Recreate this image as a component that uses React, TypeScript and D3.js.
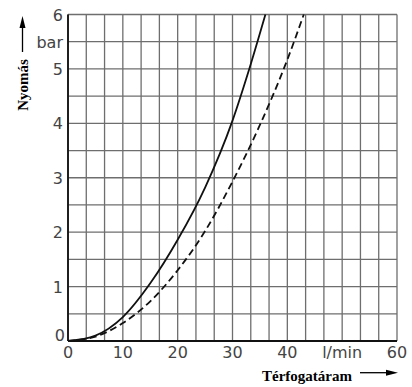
import React from "react";
import * as d3 from "d3";

const solidQ = [0, 5, 10, 15, 20, 25, 30, 33, 36];
const solidP = [0, 0.1, 0.44, 1.06, 1.86, 2.82, 4.05, 4.98, 6];
const dashQ = [0, 5, 10, 15, 20, 25, 30, 35, 40, 43];
const dashP = [0, 0.08, 0.33, 0.73, 1.3, 2.02, 2.93, 3.97, 5.17, 6];
const xTickVals = [0, 10, 20, 30, 40, 50, 60];
const xTickLabels = ["0", "10", "20", "30", "40", "l/min", "60"];
const yTickVals = [0, 1, 2, 3, 4, 5, 5.5, 6];
const yTickLabels = ["0", "1", "2", "3", "4", "5", "bar", "6"];

export default function App() {
  const W = 412, H = 387;
  const L = 68, R = 397, T = 14.5, B = 341;
  const x = d3.scaleLinear().domain([0, 60]).range([L, R]);
  const y = d3.scaleLinear().domain([0, 6]).range([B, T]);
  const vGrid = d3.range(0, 19).map((i) => (i * 60) / 18);
  const hGrid = d3.range(0, 13).map((i) => i * 0.5);
  const line = d3.line<[number, number]>().x((d) => x(d[0])).y((d) => y(d[1])).curve(d3.curveMonotoneX);
  const solid = line(solidQ.map((q, i) => [q, solidP[i]] as [number, number]))!;
  const dashed = line(dashQ.map((q, i) => [q, dashP[i]] as [number, number]))!;
  const tickFont = "'DejaVu Sans', sans-serif";
  return (
    <svg width={W} height={H} style={{ position: "absolute", left: 0, top: 0 }}>
      <rect width={W} height={H} fill="#fff" />
      {vGrid.map((v, i) => (
        <line key={"v" + i} x1={x(v)} x2={x(v)} y1={T} y2={B} stroke="#6e6e6e" strokeWidth={1.3} />
      ))}
      {hGrid.map((v, i) => (
        <line key={"h" + i} x1={L} x2={R} y1={y(v)} y2={y(v)} stroke="#6e6e6e" strokeWidth={1.3} />
      ))}
      <line x1={L} x2={L} y1={T} y2={B} stroke="#111" strokeWidth={1.8} />
      <line x1={L} x2={R} y1={B} y2={B} stroke="#111" strokeWidth={1.8} />
      <path d={solid} fill="none" stroke="#111" strokeWidth={1.8} />
      <path d={dashed} fill="none" stroke="#111" strokeWidth={1.8} strokeDasharray="7,4" />
      {xTickVals.map((v, i) => (
        <text key={"xt" + i} x={x(v)} y={358} textAnchor="middle" fontFamily={tickFont} fontSize={16} fill="#444">
          {xTickLabels[i]}
        </text>
      ))}
      {yTickVals.map((v, i) => (
        <text key={"yt" + i} x={v === 0 ? 65 : 63} y={y(v) + (v === 0 ? 0 : 6)} textAnchor="end" fontFamily={tickFont} fontSize={16} fill="#444">
          {yTickLabels[i]}
        </text>
      ))}
      <text transform="translate(27.5,85) rotate(-90)" textAnchor="middle" fontFamily="'Liberation Serif', serif" fontWeight="bold" fontSize={15} fill="#000">
        Nyomás
      </text>
      <line x1={22.5} x2={22.5} y1={52} y2={24} stroke="#000" strokeWidth={1.3} />
      <path d="M22.5,16 L19.5,28 L25.5,28 Z" fill="#000" />
      <text x={307} y={381} textAnchor="middle" fontFamily="'Liberation Serif', serif" fontWeight="bold" fontSize={15} fill="#000">
        Térfogatáram
      </text>
      <line x1={360} x2={388} y1={372.7} y2={372.7} stroke="#000" strokeWidth={1.3} />
      <path d="M398,372.7 L386,369.7 L386,375.7 Z" fill="#000" />
    </svg>
  );
}
